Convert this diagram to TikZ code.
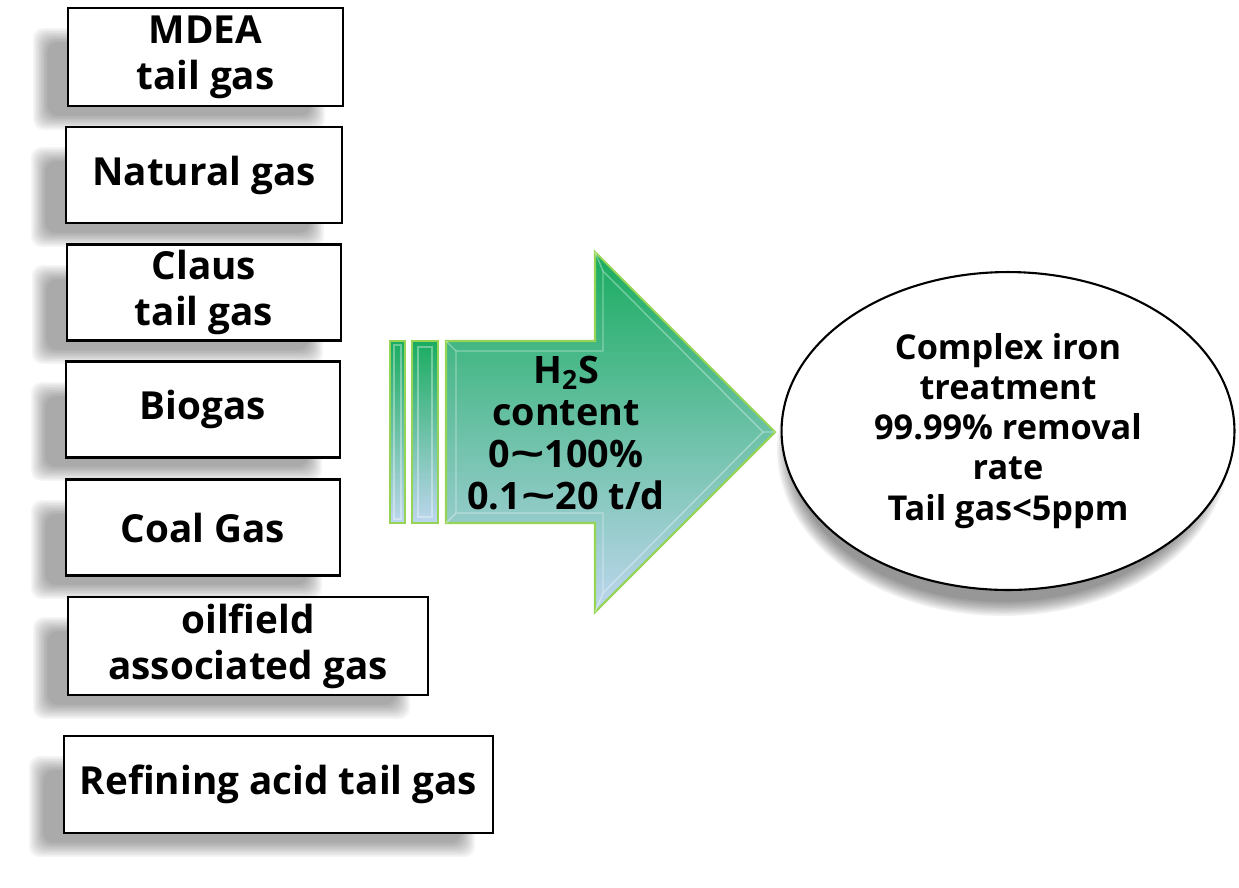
\documentclass[tikz,border=0pt]{standalone}
\usepackage{fontspec}
\usepackage{graphicx}
\setmainfont{Open Sans}
\usetikzlibrary{shapes.geometric}

\definecolor{arrowtop}{RGB}{25,172,95}
\definecolor{arrowmid}{RGB}{105,195,170}
\definecolor{arrowbot}{RGB}{190,214,238}
\definecolor{arrowrim}{RGB}{150,212,85}

\newcommand{\wtilde}{\scalebox{1.6}[1]{\textasciitilde}}

\tikzset{
    srcbox/.style={draw=black,line width=1.6pt,fill=white,align=center,inner sep=0pt,
        minimum height=1.92cm,font=\fontsize{22}{26}\selectfont\bfseries},
    goalbox/.style={ellipse,draw=black,line width=1.2pt,fill=white,align=center,inner sep=0pt,
        font=\fontsize{19.5}{22.8}\selectfont\bfseries},
    flowtext/.style={align=center,inner sep=0pt,font=\fontsize{21.5}{24}\selectfont\bfseries},
    flowfill/.style={top color=arrowtop,middle color=arrowmid,bottom color=arrowbot,
        draw=arrowrim,line width=1.2pt,line join=miter},
    bevel/.style={draw=white,opacity=0.35,line width=0.8pt}
}

\begin{document}
\begin{tikzpicture}[x=0.02cm,y=-0.02cm]
    \useasboundingbox (0,0) rectangle (1239,887);
    % soft shadows behind the boxes
    \foreach \xa/\ya/\xb/\yb in {68/8/343/106,66/127/342/223,67/245/341/340,66/362/340/457,
                                  66/480/340/575,68/597/428/695,64/736/493/833}{
        \foreach \k in {0,...,9}
            \fill[black,opacity=0.04,rounded corners=6pt]
                (\xa-35+\k*1.6,\ya+20+\k*1.6) rectangle (\xb-18-\k*1.6,\yb+24-\k*1.6);
    }
    \foreach \k in {0,...,9}
        \fill[black,opacity=0.05] (1003,450) ellipse [x radius=226-\k*1.6,y radius=166-\k*1.6];

    % sources
    \node[srcbox,minimum width=5.5cm,minimum height=1.96cm] (mdea) at (205.5,57) {MDEA\\tail gas};
    \node[srcbox,minimum width=5.52cm] (natgas) at (204,175) {Natural gas};
    \node[srcbox,minimum width=5.48cm] (claus) at (204,292.5) {Claus\\tail gas};
    \node[srcbox,minimum width=5.48cm] (biogas) at (203,409.5) {Biogas};
    \node[srcbox,minimum width=5.48cm] (coalgas) at (203,527.5) {Coal Gas};
    \node[srcbox,minimum width=7.2cm,minimum height=1.96cm] (oilfield) at (248,646) {oilfield\\associated gas};
    \node[srcbox,minimum width=8.58cm,minimum height=1.94cm] (refining) at (278.5,784.5) {Refining acid tail gas};

    % the big arrow
    \shade[flowfill] (390,341) rectangle (405,523);
    \shade[flowfill] (412,341) rectangle (438,523);
    \shade[flowfill] (446,341) -- (595,341) -- (595,252) -- (775,432) -- (595,612)
        -- (595,523) -- (446,523) -- cycle;
    \draw[bevel] (394,345) rectangle (401,519);
    \draw[bevel] (418,347) rectangle (432,517);
    \draw[bevel] (456,351) -- (603,351) -- (603,271) -- (763,432) -- (603,593)
        -- (603,513) -- (456,513) -- cycle;
    \draw[bevel] (446,341) -- (456,351) (595,252) -- (603,271) (775,432) -- (763,432)
        (595,612) -- (603,593) (446,523) -- (456,513);
    \node[flowtext] (h2s) at (566,433) {H\textsubscript{2}S\\content\\0\wtilde100\%\\0.1\wtilde20 t/d};

    % treatment
    \node[goalbox,minimum width=9.06cm,minimum height=6.36cm] (iron) at (1008,431)
        {Complex iron\\treatment\\99.99\% removal\\rate\\Tail gas<5ppm};
\end{tikzpicture}
\end{document}
